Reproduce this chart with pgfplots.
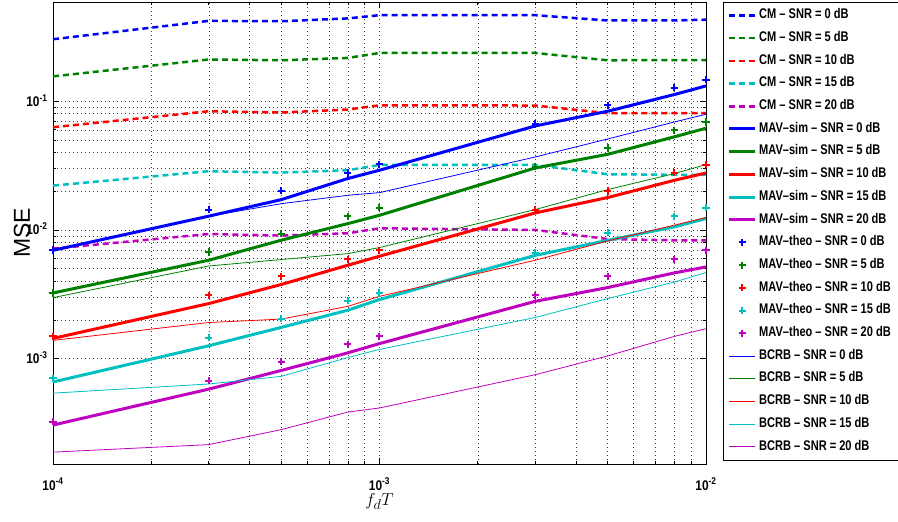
\documentclass[border=0pt]{standalone}
\usepackage{pgfplots}
\pgfplotsset{compat=1.18}
\usepackage{pgfplotstable}
\usepackage{fontspec}
\setmainfont{Liberation Sans}
\newfontfamily\narrowfont[FakeStretch=0.85]{Liberation Sans}
\newfontfamily\legfont[FakeStretch=0.79]{Liberation Sans}

\definecolor{mblue}{rgb}{0,0,1}
\definecolor{mgreen}{rgb}{0,0.5,0}
\definecolor{mred}{rgb}{1,0,0}
\definecolor{mcyan}{rgb}{0,0.75,0.75}
\definecolor{mmag}{rgb}{0.75,0,0.75}

% CM
\pgfplotstableread{
x     s0     s5     s10     s15     s20
1e-4  0.303  0.156  0.0628  0.0221  0.00716
3e-4  0.421  0.211  0.0836  0.0286  0.0093
5e-4  0.418  0.208  0.0817  0.0279  0.00904
8e-4  0.440  0.217  0.0862  0.0291  0.00942
1e-3  0.466  0.237  0.0930  0.0320  0.0103
3e-3  0.466  0.237  0.0926  0.0320  0.0100
5e-3  0.424  0.208  0.0807  0.0271  0.0085
8e-3  0.424  0.209  0.0807  0.0268  0.0083
1e-2  0.430  0.209  0.0807  0.0268  0.0083
}\cm

% MAV-sim
\pgfplotstableread{
x     s0      s5      s10      s15      s20
1e-4  0.00695 0.00324 0.001437 0.000659 0.000305
3e-4  0.0128  0.00582 0.00268  0.00126  0.00058
5e-4  0.0172  0.00832 0.00377  0.00175  0.00081
8e-4  0.0251  0.0112  0.00532  0.00238  0.00111
1e-3  0.0291  0.0130  0.00625  0.00288  0.00131
3e-3  0.0643  0.0303  0.01356  0.00635  0.00279
5e-3  0.0836  0.0387  0.01786  0.0083   0.00357
8e-3  0.1127  0.0529  0.0243   0.01057  0.00464
1e-2  0.1315  0.0617  0.0277   0.01227  0.00516
}\sim

% MAV-theo
\pgfplotstableread{
x     s0      s5      s10     s15      s20
1e-4  0.00700 0.00324 0.00149 0.000706 0.000323
3e-4  0.0144  0.00675 0.00311 0.00146  0.000673
5e-4  0.0202  0.00937 0.00437 0.00204  0.000946
8e-4  0.0277  0.0128  0.00591 0.00282  0.00129
1e-3  0.0324  0.0149  0.00695 0.00324  0.00149
3e-3  0.0666  0.0309  0.0144  0.00667  0.00311
5e-3  0.093   0.0433  0.0201  0.00955  0.00437
8e-3  0.127   0.0596  0.0279  0.0128   0.00591
1e-2  0.1475  0.069   0.0322  0.0149   0.00695
}\theo

% BCRB
\pgfplotstableread{
x     s0      s5      s10      s15      s20
1e-4  0.0069  0.00298 0.001387 0.00054  0.000188
3e-4  0.0128  0.00525 0.00191  0.000636 0.000215
5e-4  0.0160  0.00589 0.00203  0.000729 0.000281
8e-4  0.0186  0.00655 0.00255  0.00102  0.000385
1e-3  0.0195  0.0073  0.00305  0.00118  0.000414
3e-3  0.0369  0.0144  0.00582  0.00209  0.000751
5e-3  0.0509  0.0206  0.00822  0.00293  0.00105
8e-3  0.069   0.0274  0.0109   0.00394  0.00149
1e-2  0.0792  0.0322  0.0125   0.00467  0.00171
}\bcrb

\pgfplotsset{
  cm/.style={#1, line width=2.5pt, dash pattern=on 6pt off 4pt},
  mavsim/.style={#1, line width=3pt, solid},
  mavtheo/.style={#1, only marks, mark=+, mark size=3.6pt, line width=2pt},
  crb/.style={#1, line width=0.8pt, solid},
}

\begin{document}
\begin{tikzpicture}
\begin{axis}[
  scale only axis, width=653pt, height=462pt,
  xmode=log, ymode=log,
  xmin=1e-4, xmax=1e-2, ymin=1.52e-4, ymax=0.59,
  xtick={1e-4,1e-3,1e-2},
  xticklabels={10\textsuperscript{-4},10\textsuperscript{-3},10\textsuperscript{-2}},
  ytick={1e-3,1e-2,1e-1},
  yticklabels={10\textsuperscript{-3},10\textsuperscript{-2},10\textsuperscript{-1}},
  tick align=inside,
  major tick length=6pt, minor tick length=3pt,
  grid=both,
  major grid style={black!75, line width=0.5pt, dash pattern=on 0.8pt off 3.2pt},
  minor grid style={black!75, line width=0.5pt, dash pattern=on 0.8pt off 3.2pt},
  axis line style={line width=0.9pt},
  tick style={black, line width=0.6pt},
  ticklabel style={font=\narrowfont\bfseries\fontsize{14}{14}\selectfont},
  xticklabel style={anchor=base, yshift=-26pt},
  yticklabel style={anchor=base east, xshift=-2pt, yshift=-5pt},
  xlabel={$f_dT$},
  xlabel style={font=\fontsize{19}{19}\selectfont, at={([yshift=-41pt]axis description cs:0.5,0)}, anchor=base},
  ylabel={MSE},
  ylabel style={font=\fontsize{23}{23}\selectfont, at={([xshift=-31pt]axis description cs:0,0.5)}, anchor=center},
  legend image code/.code={\path (0pt,0pt);
    \draw[mark repeat=2,mark phase=2,#1] plot coordinates {(0pt,0pt) (13pt,0pt) (26pt,0pt)};},
  legend cell align=left,
  legend style={at={(rel axis cs:1.026,1)}, anchor=north west, draw=black,
    inner xsep=4.5pt, inner ysep=7pt, row sep=10.2pt,
    font=\legfont\bfseries\fontsize{14}{14}\selectfont,
    nodes={inner xsep=2.5pt, inner ysep=0pt, text height=9.5pt, text depth=3pt}},
]
\addplot[cm=mblue]  table[x=x,y=s0]{\cm};
\addplot[cm=mgreen] table[x=x,y=s5]{\cm};
\addplot[cm=mred]   table[x=x,y=s10]{\cm};
\addplot[cm=mcyan]  table[x=x,y=s15]{\cm};
\addplot[cm=mmag]   table[x=x,y=s20]{\cm};
\addplot[mavsim=mblue]  table[x=x,y=s0]{\sim};
\addplot[mavsim=mgreen] table[x=x,y=s5]{\sim};
\addplot[mavsim=mred]   table[x=x,y=s10]{\sim};
\addplot[mavsim=mcyan]  table[x=x,y=s15]{\sim};
\addplot[mavsim=mmag]   table[x=x,y=s20]{\sim};
\addplot[mavtheo=mblue]  table[x=x,y=s0]{\theo};
\addplot[mavtheo=mgreen] table[x=x,y=s5]{\theo};
\addplot[mavtheo=mred]   table[x=x,y=s10]{\theo};
\addplot[mavtheo=mcyan]  table[x=x,y=s15]{\theo};
\addplot[mavtheo=mmag]   table[x=x,y=s20]{\theo};
\addplot[crb=mblue]  table[x=x,y=s0]{\bcrb};
\addplot[crb=mgreen] table[x=x,y=s5]{\bcrb};
\addplot[crb=mred]   table[x=x,y=s10]{\bcrb};
\addplot[crb=mcyan]  table[x=x,y=s15]{\bcrb};
\addplot[crb=mmag]   table[x=x,y=s20]{\bcrb};
\legend{CM – SNR = 0 dB, CM – SNR = 5 dB, CM – SNR = 10 dB, CM – SNR = 15 dB, CM – SNR = 20 dB,
  MAV–sim – SNR = 0 dB, MAV–sim – SNR = 5 dB, MAV–sim – SNR = 10 dB, MAV–sim – SNR = 15 dB, MAV–sim – SNR = 20 dB,
  MAV–theo – SNR = 0 dB, MAV–theo – SNR = 5 dB, MAV–theo – SNR = 10 dB, MAV–theo – SNR = 15 dB, MAV–theo – SNR = 20 dB,
  BCRB – SNR = 0 dB, BCRB – SNR = 5 dB, BCRB – SNR = 10 dB, BCRB – SNR = 15 dB, BCRB – SNR = 20 dB}
\end{axis}
\pgfresetboundingbox
\useasboundingbox ([xshift=-53pt,yshift=-58pt]current axis.south west) rectangle ++(898pt,522pt);
\end{tikzpicture}
\end{document}
